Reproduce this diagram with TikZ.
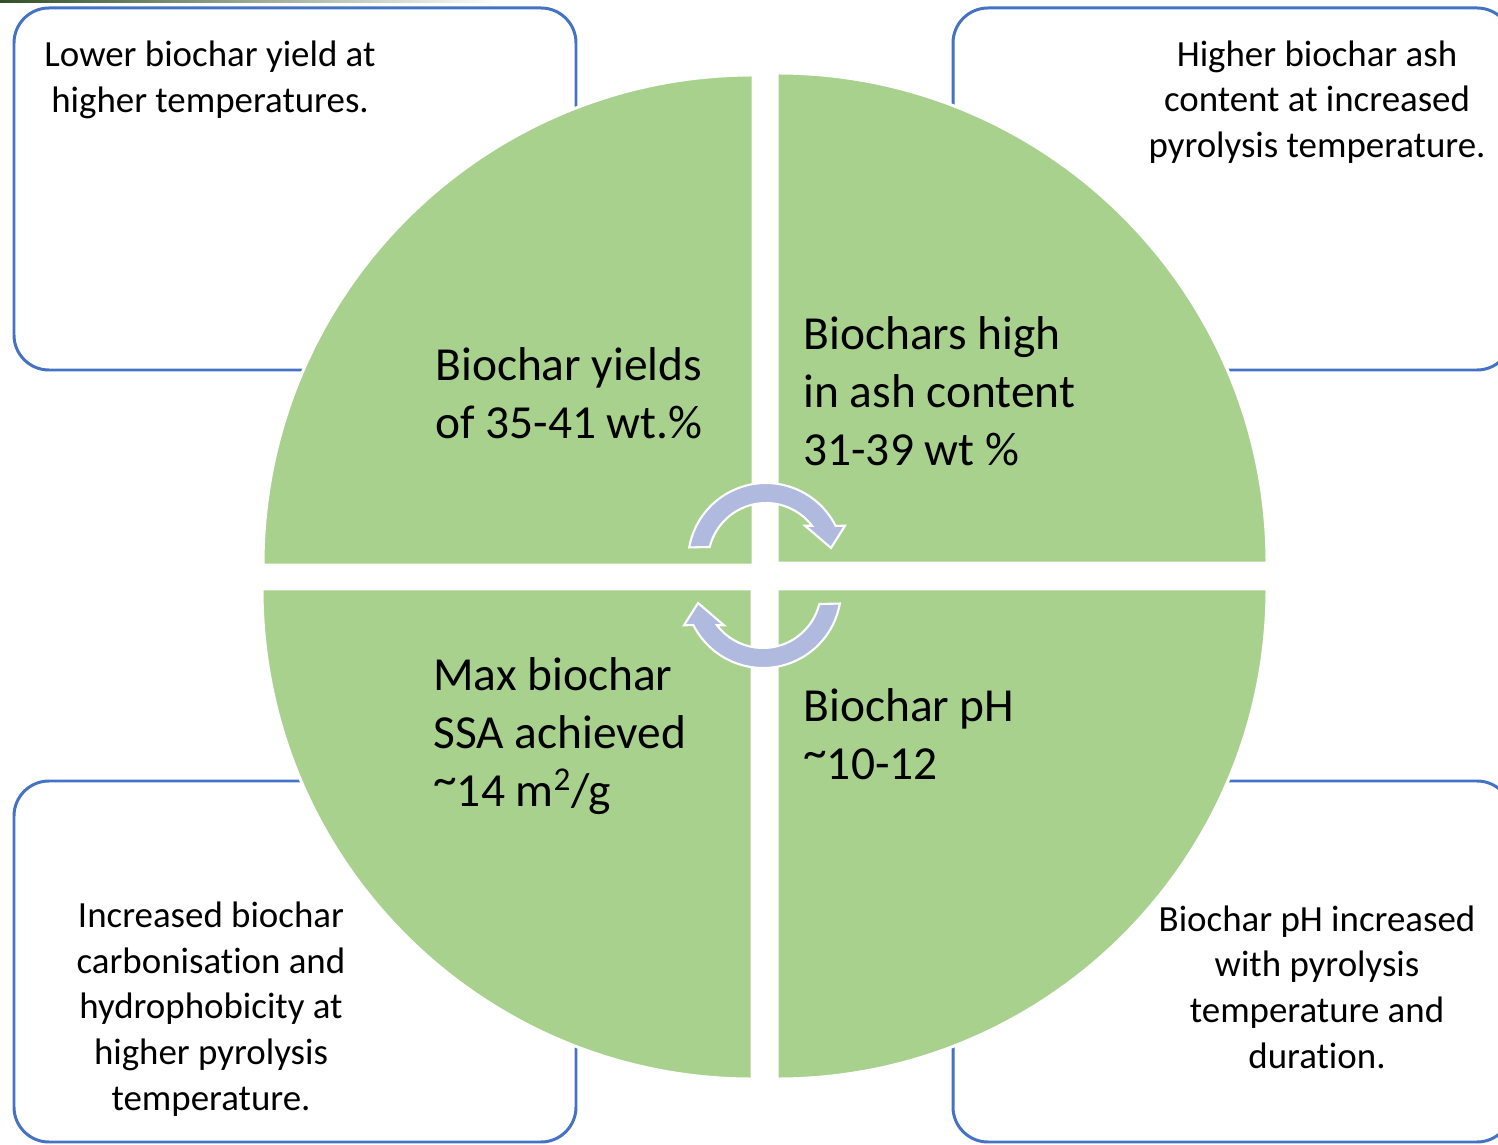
\documentclass[tikz,border=0pt]{standalone}
\usepackage{fontspec}
\setmainfont[Ligatures=NoCommon]{Carlito}
\usepackage{tikz}
\usetikzlibrary{positioning}
\definecolor{green}{RGB}{169, 209, 142}
\definecolor{boxblue}{RGB}{68, 114, 196}
\definecolor{arrowblue}{RGB}{175, 186, 222}
\definecolor{bargreen}{RGB}{50, 80, 40}
\newcommand{\hightilde}{\raisebox{0.22em}{\textasciitilde}}

\tikzset{
    infobox/.style={draw=boxblue, line width=1.7pt, rounded corners=0.7cm},
    quarter/.style={fill=green, draw=white, line width=1.7pt},
    turn/.style={fill=arrowblue, draw=white, line width=1.2pt},
    boxtext/.style={align=center, inner sep=0pt, font=\fontsize{21}{26}\selectfont},
    pietext/.style={align=left, anchor=west, inner sep=0pt, font=\fontsize{27}{33}\selectfont}
}

\begin{document}
\begin{tikzpicture}[x=0.02cm, y=0.02cm]
    \useasboundingbox (0,0) rectangle (1498,1144);
    \clip (0,0) rectangle (1498,1144);

    % thin bar at the top edge
    \shade[left color=bargreen, right color=white] (0,1141) rectangle (500,1144);

    % outer boxes (drawn first, the circle lies over them)
    \draw[infobox] (14,1136) rectangle (576,774);   % top left
    \draw[infobox] (953,1136) rectangle (1512,774); % top right
    \draw[infobox] (14,363) rectangle (576,2);      % bottom left
    \draw[infobox] (953,363) rectangle (1512,2);    % bottom right

    % four quarters of the circle
    \draw[quarter] (753,579) -- (263,579) arc[start angle=180, end angle=90, radius=490] -- cycle;
    \draw[quarter] (777,581) -- (777,1071) arc[start angle=90, end angle=0, radius=490] -- cycle;
    \draw[quarter] (752,555) -- (752,65) arc[start angle=270, end angle=180, radius=490] -- cycle;
    \draw[quarter] (777,555) -- (1267,555) arc[start angle=0, end angle=-90, radius=490] -- cycle;

    % circular arrow, upper one
    \draw[turn] (766,583) ++(170:78) arc[start angle=170, end angle=26.7, radius=78]
        -- (845,618.3) -- (831,596) -- (805,618.3)
        -- (812,618.3) arc[start angle=37.5, end angle=166, radius=58] -- cycle;
    % circular arrow, lower one (same shape turned round)
    \begin{scope}[rotate around={180:(764.5,568.5)}]
    \draw[turn] (766,583) ++(170:78) arc[start angle=170, end angle=26.7, radius=78]
        -- (845,618.3) -- (831,596) -- (805,618.3)
        -- (812,618.3) arc[start angle=37.5, end angle=166, radius=58] -- cycle;
    \end{scope}

    % texts in the quarters
    \node[pietext] (yield) at (435,751) {Biochar yields\\of 35-41 wt.\%};
    \node[pietext] (ash) at (803,753) {Biochars high\\in ash content\\31-39 wt \%};
    \node[pietext] (ssa) at (433,408) {Max biochar\\SSA achieved\\\hightilde14 m\textsuperscript{2}/g};
    \node[pietext] (ph) at (803,410) {Biochar pH\\\hightilde10-12};

    % texts in the boxes
    \node[boxtext] (yieldnote) at (210,1064) {Lower biochar yield at\\higher temperatures.};
    \node[boxtext] (ashnote) at (1317,1042) {Higher biochar ash\\content at increased\\pyrolysis temperature.};
    \node[boxtext] (ssanote) at (211,135) {Increased biochar\\carbonisation and\\hydrophobicity at\\higher pyrolysis\\temperature.};
    \node[boxtext] (phnote) at (1317,157) {Biochar pH increased\\with pyrolysis\\temperature and\\duration.};
\end{tikzpicture}
\end{document}
